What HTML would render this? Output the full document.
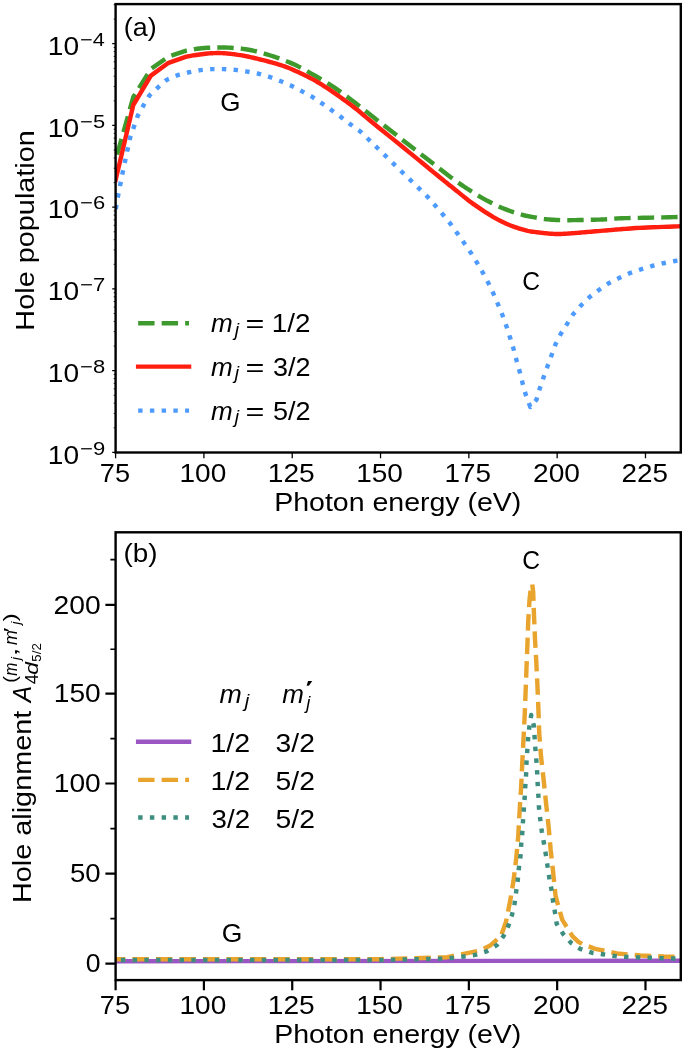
<!DOCTYPE html><html><head><meta charset="utf-8"><style>html,body{margin:0;padding:0;background:#fff;}svg{display:block;will-change:transform;}</style></head><body><svg width="685" height="1051" viewBox="0 0 685 1051" font-family="&quot;Liberation Sans&quot;, sans-serif">
<rect width="685" height="1051" fill="#fff"/>
<defs><clipPath id="ca"><rect x="115.6" y="4.1" width="565.1999999999999" height="448.4"/></clipPath><clipPath id="cb"><rect x="115.6" y="532.3" width="565.1999999999999" height="447.80000000000007"/></clipPath></defs>
<path d="M115.60,160.00 L133.30,97.00 L150.90,69.00 L168.60,56.60 L186.30,50.70 L187.45,50.49 L188.92,50.21 L190.66,49.87 L192.64,49.49 L194.79,49.12 L197.09,48.76 L199.47,48.44 L201.90,48.20 L204.45,48.01 L207.20,47.83 L210.11,47.68 L213.12,47.56 L216.19,47.47 L219.27,47.43 L222.33,47.44 L225.30,47.50 L228.23,47.61 L231.16,47.76 L234.11,47.95 L237.04,48.19 L239.97,48.48 L242.88,48.83 L245.76,49.23 L248.60,49.70 L251.40,50.23 L254.15,50.83 L256.87,51.49 L259.57,52.20 L262.28,52.96 L264.99,53.77 L267.72,54.62 L270.50,55.50 L273.33,56.43 L276.21,57.40 L279.12,58.42 L282.04,59.48 L284.95,60.58 L287.83,61.72 L290.65,62.90 L293.40,64.10 L296.07,65.34 L298.68,66.63 L301.23,67.95 L303.76,69.31 L306.26,70.70 L308.76,72.12 L311.27,73.55 L313.80,75.00 L316.36,76.47 L318.93,77.96 L321.51,79.47 L324.09,81.01 L326.65,82.57 L329.20,84.16 L331.72,85.77 L334.20,87.40 L336.67,89.08 L339.15,90.83 L341.62,92.61 L344.06,94.41 L346.46,96.20 L348.79,97.96 L351.05,99.67 L353.20,101.30 L354.84,102.55 L355.81,103.30 L356.47,103.82 L357.18,104.41 L358.30,105.32 L360.20,106.84 L363.25,109.24 L367.80,112.80 L374.46,118.00 L383.15,124.77 L393.19,132.59 L403.90,140.93 L414.61,149.27 L424.65,157.08 L433.34,163.83 L440.00,169.00 L444.59,172.55 L447.74,174.98 L449.76,176.52 L450.99,177.45 L451.77,178.01 L452.41,178.45 L453.24,179.03 L454.60,180.00 L456.29,181.21 L457.91,182.37 L459.49,183.48 L461.06,184.57 L462.63,185.65 L464.25,186.73 L465.93,187.85 L467.70,189.00 L469.55,190.20 L471.45,191.43 L473.39,192.67 L475.38,193.93 L477.42,195.19 L479.50,196.45 L481.63,197.69 L483.80,198.90 L486.04,200.11 L488.35,201.33 L490.71,202.55 L493.12,203.76 L495.55,204.94 L497.98,206.09 L500.41,207.18 L502.80,208.20 L505.21,209.17 L507.65,210.10 L510.12,211.00 L512.57,211.84 L515.00,212.64 L517.36,213.39 L519.64,214.07 L521.80,214.70 L523.88,215.25 L525.91,215.73 L527.88,216.15 L529.77,216.52 L531.59,216.85 L533.30,217.14 L534.91,217.43 L536.40,217.70 L537.68,217.95 L538.73,218.17 L539.63,218.36 L540.46,218.52 L541.29,218.67 L542.20,218.82 L543.28,218.96 L544.60,219.10 L546.17,219.25 L547.91,219.40 L549.79,219.55 L551.77,219.69 L553.81,219.82 L555.87,219.93 L557.91,220.03 L559.90,220.10 L561.86,220.15 L563.85,220.18 L565.84,220.19 L567.85,220.18 L569.86,220.17 L571.85,220.14 L573.84,220.12 L575.80,220.10 L577.74,220.08 L579.66,220.05 L581.56,220.02 L583.46,219.98 L585.35,219.94 L587.25,219.90 L589.17,219.85 L591.10,219.80 L593.07,219.75 L595.07,219.70 L597.09,219.65 L599.11,219.59 L601.11,219.53 L603.09,219.46 L605.03,219.39 L606.90,219.30 L608.64,219.20 L610.24,219.07 L611.77,218.94 L613.28,218.80 L614.84,218.66 L616.52,218.53 L618.38,218.40 L620.50,218.30 L622.79,218.22 L625.16,218.15 L627.65,218.09 L630.29,218.04 L633.12,217.99 L636.18,217.93 L639.49,217.87 L643.10,217.80 L647.35,217.71 L652.35,217.60 L657.79,217.49 L663.36,217.37 L668.76,217.25 L673.67,217.15 L677.79,217.06 L680.80,217.00" fill="none" stroke="#3f9a2e" stroke-width="4.43" stroke-linecap="butt" stroke-linejoin="round" stroke-dasharray="16.4 7.1" stroke-dashoffset="18.0" clip-path="url(#ca)"/>
<path d="M115.60,180.00 L133.30,105.00 L150.90,75.60 L168.60,62.80 L186.30,56.70 L186.90,56.59 L187.64,56.44 L188.53,56.26 L189.54,56.06 L190.66,55.85 L191.89,55.63 L193.20,55.41 L194.60,55.20 L196.14,54.98 L197.87,54.74 L199.74,54.48 L201.69,54.23 L203.66,53.98 L205.61,53.75 L207.47,53.56 L209.20,53.40 L210.81,53.28 L212.36,53.19 L213.87,53.13 L215.32,53.09 L216.75,53.07 L218.15,53.06 L219.53,53.07 L220.90,53.10 L222.22,53.14 L223.45,53.19 L224.64,53.26 L225.82,53.34 L227.02,53.45 L228.28,53.58 L229.62,53.73 L231.10,53.90 L232.71,54.10 L234.44,54.32 L236.25,54.57 L238.12,54.84 L240.03,55.13 L241.95,55.43 L243.84,55.76 L245.70,56.10 L247.56,56.47 L249.46,56.89 L251.39,57.33 L253.31,57.78 L255.18,58.24 L256.99,58.69 L258.71,59.11 L260.30,59.50 L261.71,59.84 L262.95,60.14 L264.08,60.42 L265.15,60.69 L266.22,60.96 L267.35,61.26 L268.59,61.60 L270.00,62.00 L271.59,62.45 L273.31,62.92 L275.12,63.43 L276.99,63.97 L278.91,64.53 L280.84,65.13 L282.74,65.75 L284.60,66.40 L286.43,67.08 L288.25,67.80 L290.08,68.54 L291.90,69.32 L293.73,70.12 L295.55,70.93 L297.38,71.76 L299.20,72.60 L301.02,73.45 L302.85,74.31 L304.68,75.18 L306.50,76.07 L308.32,76.99 L310.15,77.93 L311.97,78.90 L313.80,79.90 L315.62,80.94 L317.45,82.00 L319.28,83.10 L321.10,84.22 L322.93,85.36 L324.75,86.53 L326.57,87.71 L328.40,88.90 L330.22,90.11 L332.05,91.35 L333.88,92.60 L335.70,93.88 L337.52,95.16 L339.35,96.47 L341.17,97.78 L343.00,99.10 L344.84,100.44 L346.70,101.81 L348.57,103.19 L350.44,104.59 L352.29,105.98 L354.10,107.37 L355.88,108.75 L357.60,110.10 L359.07,111.28 L360.22,112.23 L361.22,113.09 L362.24,113.98 L363.45,115.04 L365.04,116.39 L367.16,118.17 L370.00,120.50 L373.71,123.52 L378.20,127.17 L383.26,131.26 L388.68,135.64 L394.23,140.14 L399.71,144.57 L404.90,148.78 L409.60,152.60 L413.95,156.15 L418.22,159.64 L422.37,163.04 L426.36,166.32 L430.16,169.45 L433.73,172.37 L437.02,175.07 L440.00,177.50 L442.58,179.59 L444.76,181.35 L446.63,182.85 L448.29,184.18 L449.82,185.39 L451.32,186.58 L452.88,187.83 L454.60,189.20 L456.43,190.67 L458.25,192.16 L460.08,193.65 L461.90,195.14 L463.73,196.62 L465.55,198.08 L467.38,199.51 L469.20,200.90 L471.02,202.26 L472.85,203.59 L474.68,204.90 L476.50,206.18 L478.32,207.44 L480.15,208.68 L481.97,209.90 L483.80,211.10 L485.62,212.28 L487.45,213.45 L489.28,214.60 L491.10,215.73 L492.93,216.83 L494.75,217.89 L496.58,218.92 L498.40,219.90 L500.22,220.84 L502.05,221.74 L503.88,222.60 L505.70,223.43 L507.52,224.22 L509.35,224.98 L511.17,225.70 L513.00,226.40 L514.84,227.07 L516.70,227.71 L518.57,228.32 L520.44,228.89 L522.29,229.43 L524.10,229.93 L525.88,230.39 L527.60,230.80 L529.29,231.16 L530.96,231.45 L532.60,231.70 L534.21,231.92 L535.77,232.11 L537.26,232.27 L538.68,232.44 L540.00,232.60 L541.20,232.76 L542.29,232.90 L543.28,233.02 L544.22,233.13 L545.13,233.23 L546.04,233.32 L546.99,233.41 L548.00,233.50 L549.07,233.59 L550.16,233.67 L551.26,233.75 L552.38,233.82 L553.51,233.89 L554.64,233.94 L555.77,233.98 L556.90,234.00 L558.02,234.00 L559.14,233.99 L560.27,233.96 L561.39,233.93 L562.53,233.88 L563.67,233.82 L564.83,233.76 L566.00,233.70 L567.15,233.64 L568.27,233.57 L569.38,233.49 L570.51,233.41 L571.69,233.32 L572.95,233.23 L574.31,233.12 L575.80,233.00 L577.42,232.87 L579.15,232.72 L580.98,232.57 L582.88,232.41 L584.86,232.24 L586.89,232.06 L588.98,231.88 L591.10,231.70 L593.35,231.51 L595.77,231.30 L598.29,231.09 L600.85,230.88 L603.37,230.66 L605.78,230.46 L608.01,230.27 L610.00,230.10 L611.63,229.96 L612.93,229.84 L614.02,229.74 L615.02,229.64 L616.05,229.55 L617.22,229.45 L618.67,229.34 L620.50,229.20 L622.64,229.04 L624.95,228.86 L627.43,228.68 L630.10,228.48 L632.99,228.28 L636.10,228.08 L639.47,227.89 L643.10,227.70 L647.35,227.51 L652.35,227.31 L657.79,227.11 L663.36,226.91 L668.76,226.72 L673.67,226.55 L677.79,226.41 L680.80,226.30" fill="none" stroke="#ff1e10" stroke-width="4.43" stroke-linecap="square" stroke-linejoin="round" clip-path="url(#ca)"/>
<path d="M115.60,210.00 L118.10,195.60 L122.70,172.40 L127.60,149.30 L130.10,137.70 L137.70,115.90 L143.50,105.40 L149.40,95.50 L158.10,87.30 L166.90,79.70 L178.00,75.00 L188.80,72.30 L200.40,70.10 L212.10,69.10 L223.80,69.10 L235.50,69.90 L247.20,71.60 L258.80,73.80 L269.80,77.00 L281.00,81.30 L291.90,86.00 L302.10,91.40 L312.30,96.90 L322.60,103.80 L332.00,110.50 L341.50,117.40 L351.00,124.70 L360.70,131.80 L427.90,197.10 L443.30,215.00 L450.50,223.90 L457.50,233.60 L464.30,243.20 L471.00,252.90 L477.10,262.80 L483.00,273.00 L488.50,283.30 L493.60,294.00 L498.20,304.80 L502.60,315.50 L506.60,326.70 L510.20,338.00 L513.60,349.10 L516.50,360.30 L519.70,371.70 L522.60,383.20 L525.70,394.60 L530.30,407.00 L536.40,399.90 L539.70,388.70 L543.50,377.50 L547.40,366.60 L551.50,355.50 L555.50,344.20 L560.70,334.00 L567.00,324.10 L573.10,314.30 L580.90,305.50 L589.60,297.10 L598.90,290.00 L608.60,283.30 L619.00,278.10 L629.60,273.20 L640.80,269.40 L651.90,266.00 L663.30,263.20 L674.90,261.00 L680.80,260.20" fill="none" stroke="#4e9bff" stroke-width="4.43" stroke-linecap="butt" stroke-linejoin="round" stroke-dasharray="4.43 7.31" stroke-dashoffset="10.9" clip-path="url(#ca)"/>
<path d="M138.15,323.20 L189.05,323.20" fill="none" stroke="#3f9a2e" stroke-width="4.43" stroke-linecap="butt" stroke-linejoin="round" stroke-dasharray="16.4 7.1" stroke-dashoffset="0"/>
<path d="M138.15,366.60 L189.05,366.60" fill="none" stroke="#ff1e10" stroke-width="4.43" stroke-linecap="square" stroke-linejoin="round"/>
<path d="M138.15,410.60 L189.05,410.60" fill="none" stroke="#4e9bff" stroke-width="4.43" stroke-linecap="butt" stroke-linejoin="round" stroke-dasharray="4.43 7.31" stroke-dashoffset="0"/>
<path d="M100.00,961.30 L700.00,960.70" fill="none" stroke="#9a56c2" stroke-width="4.43" stroke-linecap="square" stroke-linejoin="round" clip-path="url(#cb)"/>
<path d="M100.00,959.20 L380.00,959.20 L447.20,957.20 L460.00,954.60 L466.10,953.40 L480.40,950.40 L490.70,945.20 L500.90,936.10 L506.00,921.70 L510.10,901.30 L513.50,880.90 L516.20,858.60 L518.20,836.60 L519.70,809.60 L521.20,786.00 L522.30,762.40 L523.50,738.80 L524.70,715.20 L525.60,692.00 L526.50,668.00 L527.40,645.00 L528.20,622.00 L529.50,600.00 L530.40,592.00 L532.20,584.20 L533.20,592.00 L534.00,615.00 L535.00,639.00 L536.30,662.00 L537.40,685.00 L538.40,709.10 L539.20,732.70 L541.00,756.30 L543.60,779.20 L546.00,802.80 L548.60,826.40 L550.60,849.20 L553.00,870.70 L555.60,896.20 L562.20,919.70 L572.40,936.10 L578.40,941.80 L582.60,944.20 L595.20,948.80 L617.00,953.50 L640.50,955.50 L664.00,956.50 L700.00,957.20" fill="none" stroke="#e9a42e" stroke-width="4.43" stroke-linecap="butt" stroke-linejoin="round" stroke-dasharray="16.4 7.1" stroke-dashoffset="14.6" clip-path="url(#cb)"/>
<path d="M100.00,960.00 L380.00,960.00 L447.00,958.50 L463.70,956.50 L475.30,954.90 L486.60,951.40 L496.80,945.20 L503.50,936.10 L508.40,925.80 L512.10,914.60 L514.60,903.40 L516.20,891.50 L517.80,879.90 L518.90,868.00 L520.50,856.10 L521.20,844.40 L522.30,832.80 L523.00,821.10 L523.80,809.30 L524.70,797.50 L525.30,786.00 L526.10,774.30 L526.50,762.40 L527.30,750.30 L528.10,738.80 L529.30,727.10 L531.20,715.00 L533.90,725.90 L534.60,737.30 L535.40,749.00 L536.40,760.90 L537.20,772.80 L537.70,784.50 L538.40,796.20 L539.00,808.10 L540.30,819.80 L541.80,831.30 L543.80,842.50 L545.80,854.30 L547.50,866.00 L549.30,877.80 L551.40,889.00 L553.00,900.90 L555.00,912.60 L556.70,923.80 L563.20,934.00 L571.40,943.20 L580.10,948.80 L591.80,952.70 L602.70,954.30 L614.50,956.00 L626.20,956.90 L638.00,957.40 L649.70,957.70 L661.50,958.20 L673.20,958.50 L700.00,958.70" fill="none" stroke="#3d8e80" stroke-width="4.43" stroke-linecap="butt" stroke-linejoin="round" stroke-dasharray="4.43 7.31" stroke-dashoffset="2.6" clip-path="url(#cb)"/>
<path d="M138.15,741.80 L189.05,741.80" fill="none" stroke="#9a56c2" stroke-width="4.43" stroke-linecap="square" stroke-linejoin="round"/>
<path d="M138.15,779.90 L189.05,779.90" fill="none" stroke="#e9a42e" stroke-width="4.43" stroke-linecap="butt" stroke-linejoin="round" stroke-dasharray="16.4 7.1" stroke-dashoffset="0"/>
<path d="M138.15,817.50 L189.05,817.50" fill="none" stroke="#3d8e80" stroke-width="4.43" stroke-linecap="butt" stroke-linejoin="round" stroke-dasharray="4.43 7.31" stroke-dashoffset="0"/>
<rect x="115.6" y="4.1" width="565.20" height="448.40" fill="none" stroke="#000" stroke-width="2.4"/>
<rect x="115.6" y="532.3" width="565.20" height="447.80" fill="none" stroke="#000" stroke-width="2.4"/>
<path d="M115.60,452.5 V458.30 M203.91,452.5 V458.30 M292.23,452.5 V458.30 M380.54,452.5 V458.30 M468.85,452.5 V458.30 M557.16,452.5 V458.30 M645.48,452.5 V458.30 M112.20,43.70 H115.6 M112.20,125.44 H115.6 M112.20,207.18 H115.6 M112.20,288.92 H115.6 M112.20,370.66 H115.6 M112.20,452.40 H115.6" stroke="#000" stroke-width="1.3" fill="none"/>
<path d="M113.70,19.09 H115.6 M113.70,4.70 H115.6 M113.70,100.83 H115.6 M113.70,86.44 H115.6 M113.70,76.23 H115.6 M113.70,68.31 H115.6 M113.70,61.83 H115.6 M113.70,56.36 H115.6 M113.70,51.62 H115.6 M113.70,47.44 H115.6 M113.70,182.57 H115.6 M113.70,168.18 H115.6 M113.70,157.97 H115.6 M113.70,150.05 H115.6 M113.70,143.57 H115.6 M113.70,138.10 H115.6 M113.70,133.36 H115.6 M113.70,129.18 H115.6 M113.70,264.31 H115.6 M113.70,249.92 H115.6 M113.70,239.71 H115.6 M113.70,231.79 H115.6 M113.70,225.31 H115.6 M113.70,219.84 H115.6 M113.70,215.10 H115.6 M113.70,210.92 H115.6 M113.70,346.05 H115.6 M113.70,331.66 H115.6 M113.70,321.45 H115.6 M113.70,313.53 H115.6 M113.70,307.05 H115.6 M113.70,301.58 H115.6 M113.70,296.84 H115.6 M113.70,292.66 H115.6 M113.70,427.79 H115.6 M113.70,413.40 H115.6 M113.70,403.19 H115.6 M113.70,395.27 H115.6 M113.70,388.79 H115.6 M113.70,383.32 H115.6 M113.70,378.58 H115.6 M113.70,374.40 H115.6" stroke="#000" stroke-width="0.9" fill="none"/>
<path d="M115.60,980.1 V990.30 M203.91,980.1 V990.30 M292.23,980.1 V990.30 M380.54,980.1 V990.30 M468.85,980.1 V990.30 M557.16,980.1 V990.30 M645.48,980.1 V990.30 M105.40,963.60 H115.6 M105.40,873.70 H115.6 M105.40,783.50 H115.6 M105.40,693.60 H115.6 M105.40,604.90 H115.6" stroke="#000" stroke-width="2.2" fill="none"/>
<path d="M110.40,918.60 H115.6 M110.40,828.60 H115.6 M110.40,738.60 H115.6 M110.40,649.20 H115.6 M110.40,559.60 H115.6" stroke="#000" stroke-width="1.6" fill="none"/>
<g fill="#000" style="font-kerning:none">
<text x="99.86" y="481.50" font-size="25.80" textLength="30.23" lengthAdjust="spacingAndGlyphs">75</text>
<text x="99.86" y="1014.40" font-size="25.80" textLength="30.23" lengthAdjust="spacingAndGlyphs">75</text>
<text x="179.53" y="481.50" font-size="25.80" textLength="46.73" lengthAdjust="spacingAndGlyphs">100</text>
<text x="179.53" y="1014.40" font-size="25.80" textLength="46.73" lengthAdjust="spacingAndGlyphs">100</text>
<text x="267.75" y="481.50" font-size="25.80" textLength="46.99" lengthAdjust="spacingAndGlyphs">125</text>
<text x="267.75" y="1014.40" font-size="25.80" textLength="46.99" lengthAdjust="spacingAndGlyphs">125</text>
<text x="356.15" y="481.50" font-size="25.80" textLength="46.73" lengthAdjust="spacingAndGlyphs">150</text>
<text x="356.15" y="1014.40" font-size="25.80" textLength="46.73" lengthAdjust="spacingAndGlyphs">150</text>
<text x="444.60" y="481.50" font-size="25.80" textLength="46.55" lengthAdjust="spacingAndGlyphs">175</text>
<text x="444.60" y="1014.40" font-size="25.80" textLength="46.55" lengthAdjust="spacingAndGlyphs">175</text>
<text x="533.04" y="481.50" font-size="25.80" textLength="46.94" lengthAdjust="spacingAndGlyphs">200</text>
<text x="533.04" y="1014.40" font-size="25.80" textLength="46.94" lengthAdjust="spacingAndGlyphs">200</text>
<text x="621.62" y="481.50" font-size="25.80" textLength="46.47" lengthAdjust="spacingAndGlyphs">225</text>
<text x="621.62" y="1014.40" font-size="25.80" textLength="46.47" lengthAdjust="spacingAndGlyphs">225</text>
<text x="274.16" y="510.70" font-size="25.80" textLength="247.21" lengthAdjust="spacingAndGlyphs">Photon energy (eV)</text>
<text x="274.16" y="1043.30" font-size="25.80" textLength="247.21" lengthAdjust="spacingAndGlyphs">Photon energy (eV)</text>
<text x="47.86" y="54.80" font-size="25.80" textLength="31.24" lengthAdjust="spacingAndGlyphs">10</text>
<text x="80.13" y="45.90" font-size="18.10" textLength="24.70" lengthAdjust="spacingAndGlyphs">−4</text>
<text x="47.86" y="136.54" font-size="25.80" textLength="31.24" lengthAdjust="spacingAndGlyphs">10</text>
<text x="80.12" y="127.64" font-size="18.10" textLength="25.00" lengthAdjust="spacingAndGlyphs">−5</text>
<text x="47.86" y="218.28" font-size="25.80" textLength="31.24" lengthAdjust="spacingAndGlyphs">10</text>
<text x="80.12" y="209.38" font-size="18.10" textLength="25.05" lengthAdjust="spacingAndGlyphs">−6</text>
<text x="47.86" y="300.02" font-size="25.80" textLength="31.24" lengthAdjust="spacingAndGlyphs">10</text>
<text x="80.11" y="291.12" font-size="18.10" textLength="25.20" lengthAdjust="spacingAndGlyphs">−7</text>
<text x="47.86" y="381.76" font-size="25.80" textLength="31.24" lengthAdjust="spacingAndGlyphs">10</text>
<text x="80.12" y="372.86" font-size="18.10" textLength="25.04" lengthAdjust="spacingAndGlyphs">−8</text>
<text x="47.86" y="463.50" font-size="25.80" textLength="31.24" lengthAdjust="spacingAndGlyphs">10</text>
<text x="80.11" y="454.60" font-size="18.10" textLength="25.13" lengthAdjust="spacingAndGlyphs">−9</text>
<text x="85.84" y="972.30" font-size="25.80" textLength="14.80" lengthAdjust="spacingAndGlyphs">0</text>
<text x="70.01" y="882.40" font-size="25.80" textLength="30.67" lengthAdjust="spacingAndGlyphs">50</text>
<text x="53.74" y="792.20" font-size="25.80" textLength="46.96" lengthAdjust="spacingAndGlyphs">100</text>
<text x="53.74" y="702.30" font-size="25.80" textLength="46.96" lengthAdjust="spacingAndGlyphs">150</text>
<text x="53.54" y="613.60" font-size="25.80" textLength="47.17" lengthAdjust="spacingAndGlyphs">200</text>
<g transform="translate(34.2,328.3) rotate(-90)">
<text x="-2.37" y="0.00" font-size="25.80" textLength="200.54" lengthAdjust="spacingAndGlyphs">Hole population</text>
</g>
<g transform="translate(30.7,900.7) rotate(-90)">
<text x="-2.37" y="0.00" font-size="25.80" textLength="192.38" lengthAdjust="spacingAndGlyphs">Hole alignment</text>
<text x="198.51" y="0.00" font-size="25.80" font-style="italic" textLength="16.41" lengthAdjust="spacingAndGlyphs">A</text>
<text x="216.38" y="6.90" font-size="18.00" textLength="10.26" lengthAdjust="spacingAndGlyphs">4</text>
<text x="225.83" y="6.90" font-size="18.00" font-style="italic" textLength="12.67" lengthAdjust="spacingAndGlyphs">d</text>
<text x="239.07" y="10.60" font-size="12.80" textLength="18.50" lengthAdjust="spacingAndGlyphs">5/2</text>
<text x="217.96" y="-14.40" font-size="18.00" textLength="6.66" lengthAdjust="spacingAndGlyphs">(</text>
<text x="225.04" y="-13.80" font-size="18.00" font-style="italic" textLength="13.09" lengthAdjust="spacingAndGlyphs">m</text>
<text x="240.60" y="-10.60" font-size="12.80" font-style="italic" textLength="2.99" lengthAdjust="spacingAndGlyphs">j</text>
<text x="244.27" y="-13.80" font-size="18.00" textLength="9.06" lengthAdjust="spacingAndGlyphs">,</text>
<text x="255.80" y="-13.80" font-size="18.00" font-style="italic" textLength="14.82" lengthAdjust="spacingAndGlyphs">m</text>
<text x="268.35" y="-13.80" font-size="18.00" textLength="4.73" lengthAdjust="spacingAndGlyphs">′</text>
<text x="276.20" y="-10.60" font-size="12.80" font-style="italic" textLength="2.99" lengthAdjust="spacingAndGlyphs">j</text>
<text x="279.15" y="-14.40" font-size="18.00" textLength="8.42" lengthAdjust="spacingAndGlyphs">)</text>
</g>
<text x="123.83" y="36.20" font-size="25.80" textLength="32.83" lengthAdjust="spacingAndGlyphs">(a)</text>
<text x="123.47" y="561.60" font-size="25.80" textLength="34.06" lengthAdjust="spacingAndGlyphs">(b)</text>
<text x="220.39" y="111.00" font-size="25.80" textLength="20.26" lengthAdjust="spacingAndGlyphs">G</text>
<text x="522.35" y="290.30" font-size="25.80" textLength="17.79" lengthAdjust="spacingAndGlyphs">C</text>
<text x="522.35" y="568.90" font-size="25.80" textLength="17.79" lengthAdjust="spacingAndGlyphs">C</text>
<text x="221.87" y="941.60" font-size="25.80" textLength="20.61" lengthAdjust="spacingAndGlyphs">G</text>
<text x="210.97" y="332.00" font-size="25.80" font-style="italic" textLength="21.74" lengthAdjust="spacingAndGlyphs">m</text>
<text x="234.76" y="335.50" font-size="18.00" font-style="italic" textLength="4.29" lengthAdjust="spacingAndGlyphs">j</text>
<text x="245.52" y="332.00" font-size="25.80" textLength="18.87" lengthAdjust="spacingAndGlyphs">=</text>
<text x="271.88" y="332.00" font-size="25.80" textLength="38.72" lengthAdjust="spacingAndGlyphs">1/2</text>
<text x="210.97" y="375.70" font-size="25.80" font-style="italic" textLength="21.74" lengthAdjust="spacingAndGlyphs">m</text>
<text x="234.76" y="379.20" font-size="18.00" font-style="italic" textLength="4.29" lengthAdjust="spacingAndGlyphs">j</text>
<text x="245.52" y="375.70" font-size="25.80" textLength="18.87" lengthAdjust="spacingAndGlyphs">=</text>
<text x="272.97" y="375.70" font-size="25.80" textLength="37.59" lengthAdjust="spacingAndGlyphs">3/2</text>
<text x="210.97" y="419.50" font-size="25.80" font-style="italic" textLength="21.74" lengthAdjust="spacingAndGlyphs">m</text>
<text x="234.76" y="423.00" font-size="18.00" font-style="italic" textLength="4.29" lengthAdjust="spacingAndGlyphs">j</text>
<text x="245.52" y="419.50" font-size="25.80" textLength="18.87" lengthAdjust="spacingAndGlyphs">=</text>
<text x="272.92" y="419.50" font-size="25.80" textLength="37.65" lengthAdjust="spacingAndGlyphs">5/2</text>
<text x="219.56" y="703.40" font-size="25.80" font-style="italic" textLength="22.29" lengthAdjust="spacingAndGlyphs">m</text>
<text x="244.76" y="707.20" font-size="18.00" font-style="italic" textLength="4.48" lengthAdjust="spacingAndGlyphs">j</text>
<text x="282.27" y="703.40" font-size="25.80" font-style="italic" textLength="21.64" lengthAdjust="spacingAndGlyphs">m</text>
<text x="306.34" y="708.70" font-size="18.00" font-style="italic" textLength="4.05" lengthAdjust="spacingAndGlyphs">j</text>
<text x="304.84" y="694.00" font-size="18.00" textLength="8.42" lengthAdjust="spacingAndGlyphs">′</text>
<text x="210.42" y="752.00" font-size="25.80" textLength="39.71" lengthAdjust="spacingAndGlyphs">1/2</text>
<text x="275.62" y="752.00" font-size="25.80" textLength="39.30" lengthAdjust="spacingAndGlyphs">3/2</text>
<text x="210.42" y="790.20" font-size="25.80" textLength="39.71" lengthAdjust="spacingAndGlyphs">1/2</text>
<text x="275.57" y="790.20" font-size="25.80" textLength="39.36" lengthAdjust="spacingAndGlyphs">5/2</text>
<text x="211.54" y="828.20" font-size="25.80" textLength="38.55" lengthAdjust="spacingAndGlyphs">3/2</text>
<text x="275.57" y="828.20" font-size="25.80" textLength="39.36" lengthAdjust="spacingAndGlyphs">5/2</text>
</g>
</svg></body></html>
